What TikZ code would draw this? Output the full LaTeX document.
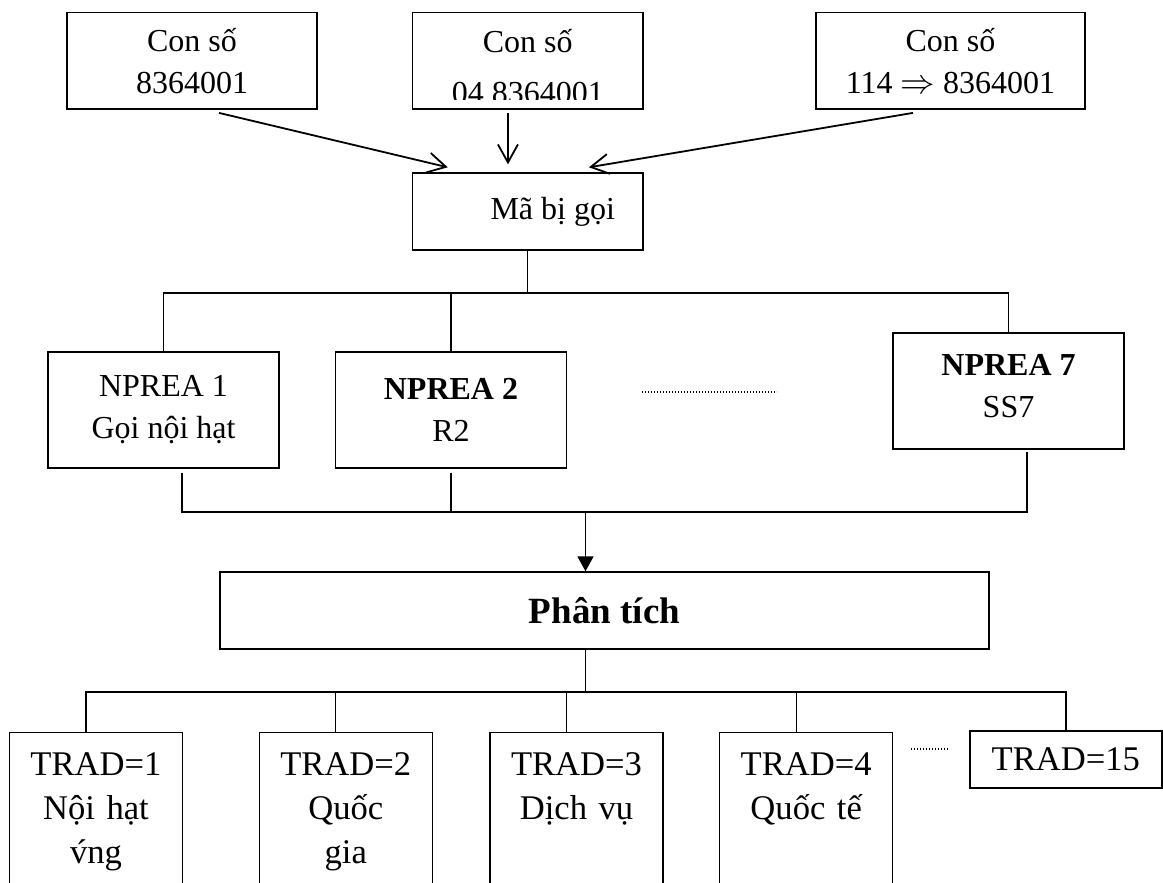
\documentclass[tikz,border=0pt]{standalone}
\usepackage{fontspec}
\setmainfont{Liberation Serif}
\usetikzlibrary{arrows.meta}

\begin{document}
\begin{tikzpicture}[x=0.5pt, y=-0.5pt,
    every node/.style={font=\fontsize{16}{21}\selectfont},
    cell/.style={draw, line width=0.7pt, align=center},
    tradfont/.style={font=\fontsize{17.3}{22}\selectfont},
    tradcell/.style={cell, tradfont, anchor=north, text width=86.5pt, inner xsep=0pt,
                     inner ysep=10pt, text depth=60pt},
    link/.style={line width=0.7pt},
    feed/.style={line width=0.9pt, -{Straight Barb[length=9pt,width=10pt]}},
    push/.style={line width=0.9pt, -{Triangle[length=7.5pt,width=8pt]}},
    ellip/.style={line width=0.6pt, dash pattern=on 0.6pt off 0.9pt}]
  % Page: 1163 x 883 px, y grows downwards
  \useasboundingbox (0,0) rectangle (1163,883);
  \clip (0,0) rectangle (1163,883);

  % Dialled numbers
  \def\toph{48.2pt}
  \node[cell, minimum width=125pt, minimum height=\toph] (numA) at (192,61) {Con số\\8364001};
  \node[cell, minimum width=115.25pt, minimum height=\toph] (numB) at (527.75,61) {};
  \node[anchor=base] (numBa) at (527.75,53) {Con số};
  % second line of the middle box is cut off by its frame
  \begin{scope}
    \clip (412.5,12.7) rectangle (643,100);
    \node[anchor=base] (numBb) at (527.75,104) {04 8364001};
  \end{scope}
  \node[cell, minimum width=134.5pt, minimum height=\toph] (numC) at (950.5,61) {Con số\\114 $\Rightarrow$ 8364001};

  % Called-number code
  \node[cell, minimum width=115.25pt, minimum height=38.5pt] (code) at (527.75,211.5) {\hspace*{25pt}Mã bị gọi};
  \draw[feed] ([xshift=13.5pt,yshift=-1.5pt]numA.south) -- ([xshift=-40pt,yshift=2.5pt]code.north);
  \draw[feed] ([xshift=-9.9pt,yshift=-1.5pt]numB.south) -- ([xshift=-9.9pt,yshift=4pt]code.north);
  \draw[feed] ([xshift=-18.75pt,yshift=-1.5pt]numC.south) -- ([xshift=30.6pt,yshift=2.5pt]code.north);

  % NPREA branches
  \coordinate (busA) at (0,293);
  \node[cell, minimum width=115.5pt, minimum height=58pt] (np1) at (163.5,410) {NPREA 1\\Gọi nội hạt};
  \node[cell, minimum width=115.5pt, minimum height=58pt] (np2) at (451,410) {\textbf{NPREA 2}\\R2};
  \node[cell, minimum width=115.5pt, minimum height=58pt, text depth=5pt] (np7) at (1008.5,391) {\textbf{NPREA 7}\\SS7};
  \draw[link] (code.south) -- (code.south |- busA);
  \draw[link] (np1.north) -- (np1.north |- busA) -- (np7.north |- busA) -- (np7.north);
  \draw[link] (np2.north) -- (np2.north |- busA);
  \draw[ellip] (641.5,392) -- (776.5,392);

  % Merge into the analysis step
  \coordinate (busB) at (0,512);
  \coordinate (s1) at ([xshift=9.25pt,yshift=-2pt]np1.south);
  \coordinate (s7) at ([xshift=9.25pt,yshift=-1pt]np7.south);
  \draw[link] (s1) -- (s1 |- busB) -- (s7 |- busB) -- (s7);
  \draw[link] ([yshift=-2pt]np2.south) -- (np2.south |- busB);
  \node[cell, minimum width=384.5pt, minimum height=38.5pt,
        font=\fontsize{18.5}{22}\selectfont\bfseries] (ana) at (604.5,610.5) {Phân tích};
  \coordinate (ax) at ([xshift=-9.5pt]ana.north);
  \draw[push] (ax |- busB) -- (ax);

  % Traffic classes
  \coordinate (busC) at (0,692);
  \draw[link] (ax |- ana.south) -- (ax |- busC);
  \node[tradcell] (t1) at (96,732) {TRAD=1\\Nội hạt\\v́ng};
  \node[tradcell] (t2) at (345.75,732) {TRAD=2\\Quốc\\gia};
  \node[tradcell] (t3) at (576.5,732) {TRAD=3\\Dịch vụ};
  \node[tradcell] (t4) at (806.2,732) {TRAD=4\\Quốc tế};
  \node[cell, tradfont, minimum width=96pt, minimum height=28.5pt] (t15) at (1065.8,759.5) {TRAD=15};
  \draw[link] ([xshift=-5pt]t1.north) -- ([xshift=-5pt]t1.north |- busC) -- (t15.north |- busC) -- (t15.north);
  \foreach \t in {t2,t3,t4}
    \draw[link] ([xshift=-5pt]\t.north) -- ([xshift=-5pt]\t.north |- busC);
  \draw[ellip] (911,749) -- (948,749);
\end{tikzpicture}
\end{document}
